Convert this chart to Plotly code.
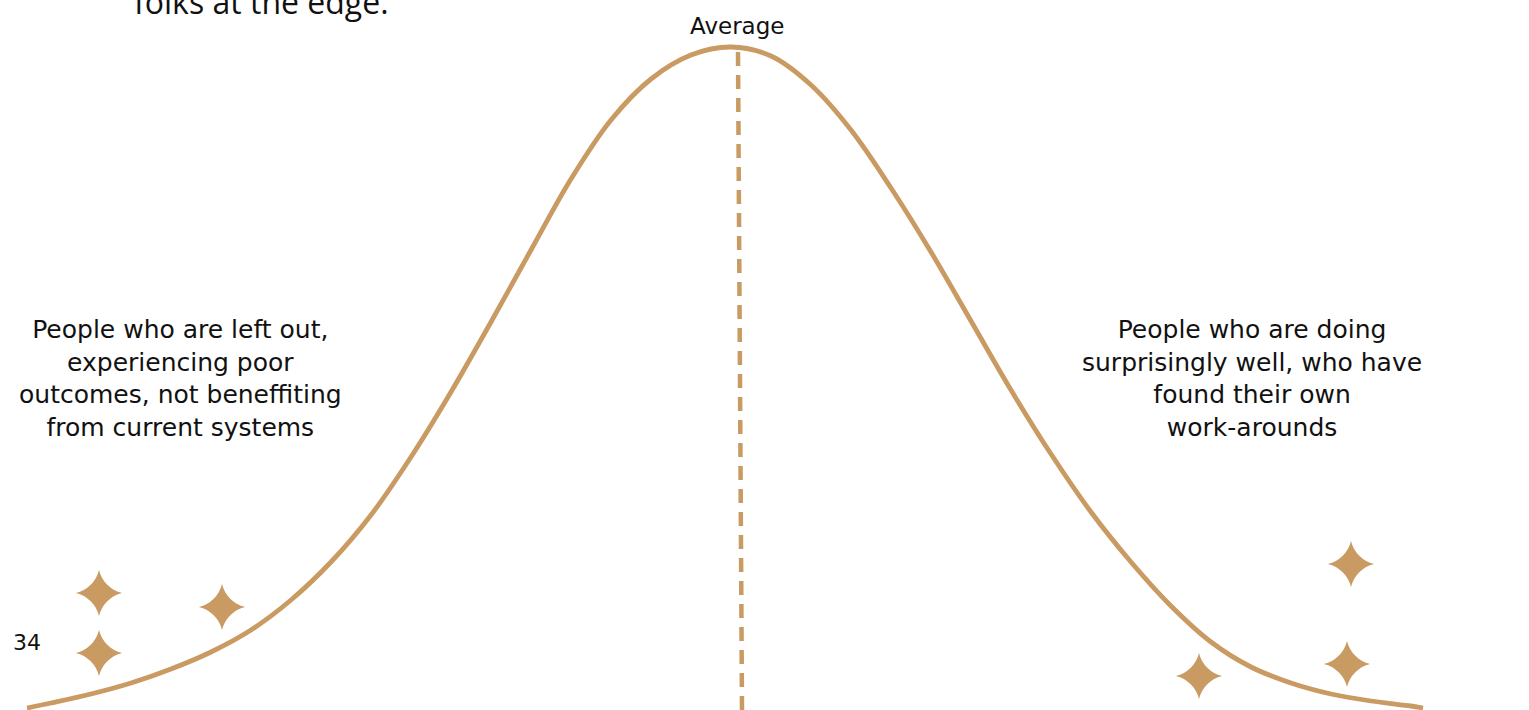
import plotly.graph_objects as go

# Bell curve (x position, height above the bottom edge)
curve_x = [27, 51, 91, 131, 171, 211, 251, 291, 331, 371, 411, 451, 491, 531, 571, 611, 651, 691,
           731,
           771, 811, 851, 891, 931, 971, 1011, 1051, 1091, 1131, 1171, 1211, 1251, 1291, 1331, 1371, 1411, 1423]
curve_y = [2, 7, 16, 27, 41, 58, 80, 110, 148, 195, 253, 318, 388, 460, 531, 590, 631, 655,
           663,
           654, 625, 580, 522, 458, 389, 320, 256, 198, 148, 104, 68, 43, 27, 16, 9, 4, 2]

# Average marker (dashed line)
avg_x = [738, 742]
avg_y = [658, 0]

# Sparkle markers
stars_x = [99, 99, 222, 1351, 1347, 1199]
stars_y = [117, 57, 103, 146, 46, 34]

left_label = "People who are left out,<br>experiencing poor<br>outcomes, not beneffiting<br>from current systems"
right_label = "People who are doing<br>surprisingly well, who have<br>found their own<br>work-arounds"
top_text = "folks at the edge."
avg_label = "Average"
page_no = "34"

GOLD = "#C99A62"
FONT = "DejaVu Sans"

fig = go.Figure()
fig.add_trace(go.Scatter(x=avg_x, y=avg_y, mode="lines",
                         line=dict(color=GOLD, width=4.5, dash="14px,9px"),
                         hoverinfo="skip", showlegend=False))
fig.add_trace(go.Scatter(x=curve_x, y=curve_y, mode="lines",
                         line=dict(color=GOLD, width=4.8, shape="spline", smoothing=1.0),
                         hoverinfo="skip", showlegend=False))
fig.add_trace(go.Scatter(x=stars_x, y=stars_y, mode="markers",
                         marker=dict(symbol="star-diamond", size=33, color=GOLD,
                                     line=dict(width=0)),
                         hoverinfo="skip", showlegend=False))

fig.add_annotation(x=737, y=684, text=avg_label, showarrow=False,
                   font=dict(family=FONT, size=23, color="#111"), xanchor="center", yanchor="middle")
fig.add_annotation(x=180, y=332, text=left_label, showarrow=False, align="center",
                   font=dict(family=FONT, size=25, color="#111"), xanchor="center", yanchor="middle")
fig.add_annotation(x=1252, y=332, text=right_label, showarrow=False, align="center",
                   font=dict(family=FONT, size=25, color="#111"), xanchor="center", yanchor="middle")
fig.add_annotation(x=27, y=68, text=page_no, showarrow=False,
                   font=dict(family=FONT, size=22, color="#111"), xanchor="center", yanchor="middle")
fig.add_annotation(x=261, y=709, text=top_text, showarrow=False,
                   font=dict(family="Open Sans", size=32, color="#111"), xanchor="center", yanchor="middle")

fig.update_layout(
    width=1529, height=710,
    margin=dict(l=0, r=0, t=0, b=0),
    paper_bgcolor="white", plot_bgcolor="white",
    xaxis=dict(range=[0, 1529], visible=False, fixedrange=True),
    yaxis=dict(range=[0, 710], visible=False, fixedrange=True),
)
fig.write_html("out.html", config={"displayModeBar": False},
               post_script="document.body.style.margin='0px';document.body.style.overflow='hidden';")
